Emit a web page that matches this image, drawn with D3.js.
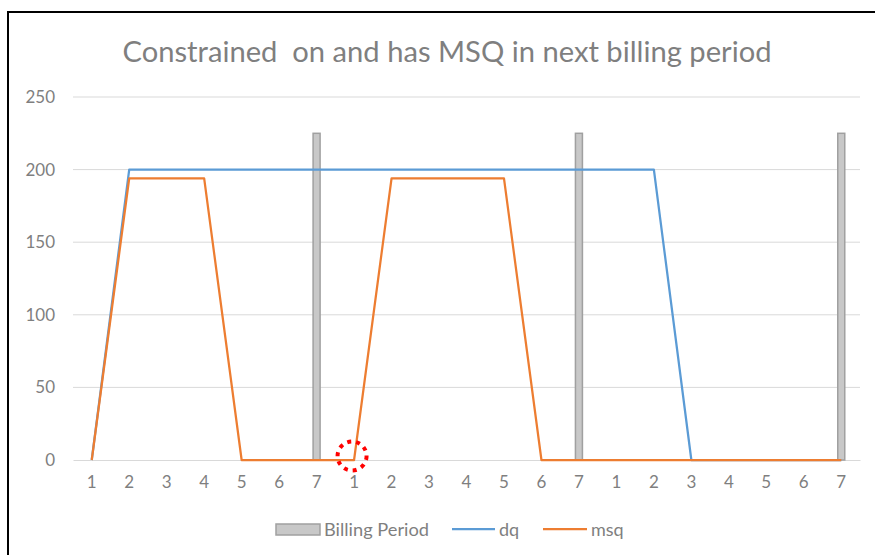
<!DOCTYPE html>
<html>
<head>
<meta charset="utf-8">
<title>Constrained on and has MSQ</title>
<script src="https://d3js.org/d3.v7.min.js"></script>
<style>
  body { margin: 0; background: #fff; overflow: hidden; }
  svg { display: block; font-family: Lato, "Open Sans", sans-serif; }
</style>
</head>
<body>
<div id="chart"></div>
<script>
// categories (day within billing period), three periods
var days = ["1","2","3","4","5","6","7","1","2","3","4","5","6","7","1","2","3","4","5","6","7"];
// Billing Period markers (only on the last day of each period)
var billing = [0,0,0,0,0,0,225,0,0,0,0,0,0,225,0,0,0,0,0,0,225];
var dq  = [0,200,200,200,200,200,200,200,200,200,200,200,200,200,200,200,0,0,0,0,0];
var msq = [0,194,194,194,0,0,0,0,194,194,194,194,0,0,0,0,0,0,0,0,0];
var yTicks = [0,50,100,150,200,250];

var W = 875, H = 555;
var svg = d3.select("#chart").append("svg")
    .attr("width", W).attr("height", H);

// outer frame (cut off on right/bottom like the screenshot)
svg.append("rect")
    .attr("x", 8).attr("y", 12)
    .attr("width", 1000).attr("height", 700)
    .attr("fill", "#fff").attr("stroke", "#000").attr("stroke-width", 2);

var idx = d3.range(days.length);
var x = d3.scaleBand().domain(idx).range([73, 860]).padding(0);
var y = d3.scaleLinear().domain([0, 250]).range([460, 97]);
var cx = function(i) { return x(i) + x.bandwidth() / 2; };

// gridlines
svg.append("g").selectAll("line")
    .data(yTicks.filter(function(d) { return d > 0; }))
    .enter().append("line")
    .attr("x1", 73).attr("x2", 860)
    .attr("y1", function(d) { return y(d); })
    .attr("y2", function(d) { return y(d); })
    .attr("stroke", "#d9d9d9").attr("stroke-width", 1);

// y labels
svg.append("g").selectAll("text")
    .data(yTicks).enter().append("text")
    .attr("x", 55).attr("y", function(d) { return y(d) + 6; })
    .attr("text-anchor", "end")
    .attr("font-size", 17).attr("fill", "#7f7f7f")
    .text(function(d) { return d; });

// x axis
var xAxis = svg.append("g")
    .attr("transform", "translate(0,460)")
    .call(d3.axisBottom(x).tickSize(0).tickPadding(16).tickFormat(function(i) { return days[i]; }));
xAxis.select(".domain").attr("stroke", "#d9d9d9");
xAxis.selectAll("text").attr("font-size", 17).attr("fill", "#7f7f7f")
    .attr("font-family", "Lato, 'Open Sans', sans-serif");

// billing period bars
var bw = 7;
svg.append("g").selectAll("rect")
    .data(idx.filter(function(i) { return billing[i] > 0; }))
    .enter().append("rect")
    .attr("x", function(i) { return cx(i) - bw / 2; })
    .attr("y", function(i) { return y(billing[i]); })
    .attr("width", bw)
    .attr("height", function(i) { return y(0) - y(billing[i]); })
    .attr("fill", "#c8c8c8").attr("stroke", "#a0a0a0").attr("stroke-width", 1.5);

// lines
var line = function(arr) {
    return d3.line().x(function(d, i) { return cx(i); }).y(function(d) { return y(d); })(arr);
};
svg.append("path").attr("d", line(dq))
    .attr("fill", "none").attr("stroke", "#5b9bd5").attr("stroke-width", 2.25)
    .attr("stroke-linejoin", "round");
svg.append("path").attr("d", line(msq))
    .attr("fill", "none").attr("stroke", "#ed7d31").attr("stroke-width", 2.25)
    .attr("stroke-linejoin", "round");

// red dotted annotation circle
svg.append("circle")
    .attr("cx", cx(7) - 2).attr("cy", y(0) - 4).attr("r", 14.5)
    .attr("fill", "none").attr("stroke", "#ff0000").attr("stroke-width", 4)
    .attr("stroke-dasharray", "4 5");

// title
svg.append("text")
    .attr("x", 447).attr("y", 62)
    .attr("text-anchor", "middle")
    .attr("font-size", 28).attr("fill", "#7f7f7f")
    .attr("textLength", 649).attr("lengthAdjust", "spacingAndGlyphs")
    .style("white-space", "pre")
    .text("Constrained  on and has MSQ in next billing period");

// legend
var lg = svg.append("g").attr("font-size", 18).attr("fill", "#7f7f7f");
lg.append("rect").attr("x", 276).attr("y", 524).attr("width", 44).attr("height", 11)
    .attr("fill", "#c8c8c8").attr("stroke", "#a0a0a0").attr("stroke-width", 1.5);
lg.append("text").attr("x", 324).attr("y", 536).attr("textLength", 105)
    .attr("lengthAdjust", "spacingAndGlyphs").text("Billing Period");
lg.append("line").attr("x1", 452).attr("x2", 495).attr("y1", 529).attr("y2", 529)
    .attr("stroke", "#5b9bd5").attr("stroke-width", 2.25);
lg.append("text").attr("x", 499).attr("y", 536).text("dq");
lg.append("line").attr("x1", 543).attr("x2", 587).attr("y1", 529).attr("y2", 529)
    .attr("stroke", "#ed7d31").attr("stroke-width", 2.25);
lg.append("text").attr("x", 591).attr("y", 536).text("msq");
</script>
</body>
</html>
